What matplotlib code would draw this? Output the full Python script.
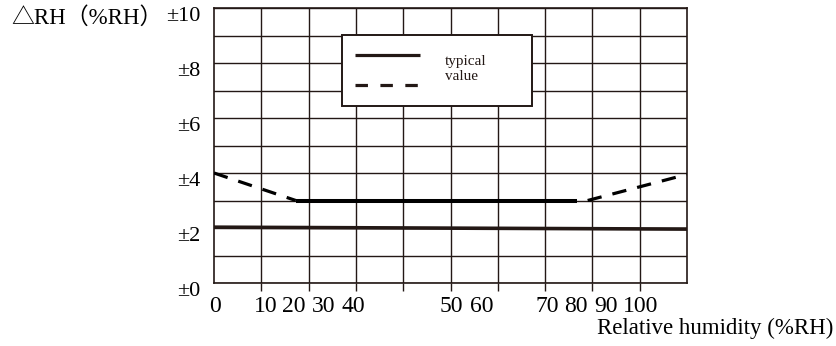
import matplotlib.pyplot as plt
from matplotlib.patches import Rectangle
from matplotlib.transforms import ScaledTranslation

plt.rcParams["font.family"] = ["Liberation Serif", "Noto Sans CJK SC"]

INK = "#231815"

# accuracy envelope, in grid units (x: 0-100, y: %RH)
spec_x = [0, 100]
spec_y = [2.03, 1.96]

typ_x = [17.3, 76.7]
typ_y = [3.0, 3.0]

low_x = [0.0, 17.3]
low_y = [4.0, 3.0]

high_x = [79.0, 100.0]
high_y = [3.0, 3.95]

y_ticks = [0, 2, 4, 6, 8, 10]
y_labels = ["±0", "±2", "±4", "±6", "±8", "±10"]

x_labels = ["0", "10", "20", "30", "40", "50", "60", "70", "80", "90", "100"]
x_label_pos = [0.2, 10.9, 16.8, 23.2, 29.5, 50.2, 56.6, 70.5, 76.5, 82.8, 90.1]

fig = plt.figure(figsize=(8.36, 3.46), dpi=100)
ax = fig.add_axes([214 / 836, 63 / 346, 473 / 836, 275 / 346])
ax.set_xlim(0, 100)
ax.set_ylim(0, 10)

# grid: 10 columns, 10 rows
ax.set_xticks(range(10, 100, 10))
ax.set_xticklabels([])
ax.set_yticks(range(0, 11))
tick_text = dict(zip(y_ticks, y_labels))
ax.set_yticklabels([tick_text.get(v, "") for v in range(0, 11)], fontsize=16)
ax.tick_params(axis="x", direction="out", length=6, width=1.0, color=INK)
ax.tick_params(axis="y", length=0, pad=10)
ax.grid(True, color=INK, linewidth=1.0)
for sp in ax.spines.values():
    sp.set_color(INK)
    sp.set_linewidth(1.2)

shift = ScaledTranslation(0, -4 / 72, fig.dpi_scale_trans)
for lab in ax.get_yticklabels():
    lab.set_transform(lab.get_transform() + shift)

# x tick labels sit at their own positions under the grid
for txt, pos in zip(x_labels, x_label_pos):
    ax.text(pos, -0.85, txt, ha="center", va="center", fontsize=17,
            transform=ax.transData, clip_on=False)

ax.plot(spec_x, spec_y, color=INK, linewidth=2.6, solid_capstyle="butt", zorder=3)
ax.plot(typ_x, typ_y, color="black", linewidth=2.9, solid_capstyle="butt", zorder=3)
ax.plot(low_x, low_y, color="black", linewidth=2.3, dashes=(4.5, 3.5),
        dash_capstyle="butt", zorder=3)
ax.plot(high_x, high_y, color="black", linewidth=2.3, dashes=(4.5, 3.5),
        dash_capstyle="butt", zorder=3)

# legend box drawn over the grid
ax.add_patch(Rectangle((27.1, 6.45), 40.1, 2.57, facecolor="white",
                       edgecolor=INK, linewidth=1.4, zorder=4))
ax.plot([29.8, 43.6], [8.29, 8.29], color=INK, linewidth=2.3,
        solid_capstyle="butt", zorder=5)
ax.plot([29.8, 43.6], [7.2, 7.2], color=INK, linewidth=2.3, dashes=(3.9, 3.9),
        dash_capstyle="butt", zorder=5)
ax.text(48.8, 7.8, "typical\nvalue", ha="left", va="center", fontsize=11,
        linespacing=1.2, color=INK, zorder=5)

fig.text(11 / 836, 1 - 18 / 346, "△RH（%RH）", ha="left", va="center",
         fontsize=16.5)
fig.text(833 / 836, 1 - 328 / 346, "Relative humidity (%RH)", ha="right",
         va="center", fontsize=16.5)

fig.savefig("out.png", dpi=100)
